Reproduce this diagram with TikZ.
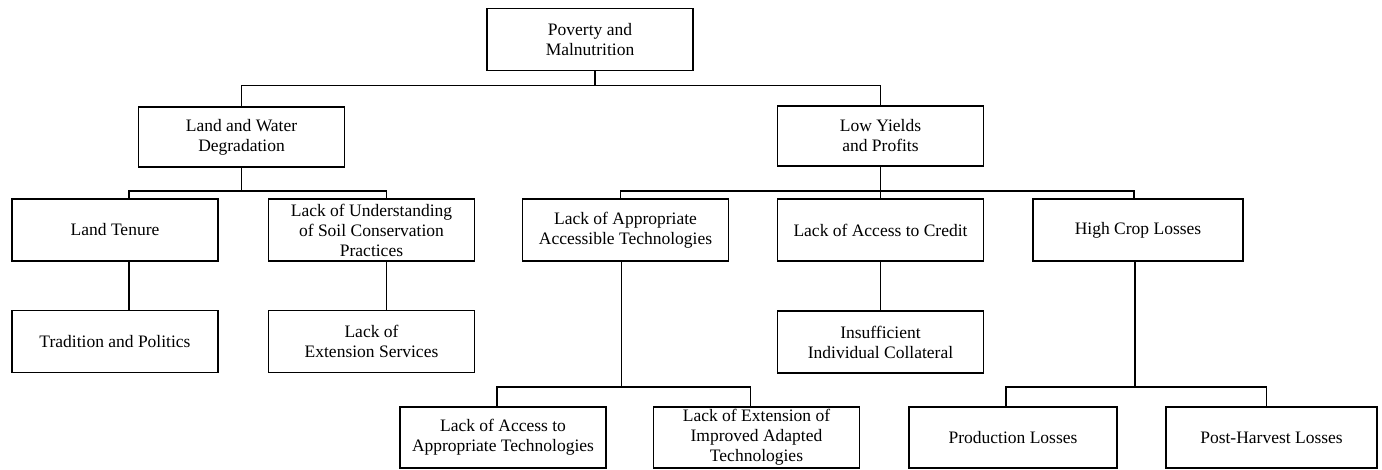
\documentclass[tikz,border=0pt]{standalone}
\usepackage{fontspec}
\setmainfont{Liberation Serif}
\usepackage{tikz}

\begin{document}
\begin{tikzpicture}[x=1pt, y=-1pt, font=\fontsize{17.5}{20}\selectfont,
    cause/.style={draw, line width=1.8pt, minimum width=206pt, minimum height=62pt, inner sep=1pt, align=center},
    link/.style={line width=1.3pt}]
    \useasboundingbox (0,0) rectangle (1382,470);

    \node[cause] (pov) at (590,39.5) {Poverty and\\Malnutrition};

    \node[cause, minimum height=60pt] (lwd) at (241.5,137) {Land and Water\\Degradation};
    \node[cause, minimum height=60pt] (lyp) at (880.5,136) {Low Yields\\and Profits};

    \node[cause] (lt)  at (115,230)   {Land Tenure};
    \node[cause] (lus) at (371.5,230) {Lack of Understanding\\of Soil Conservation\\Practices};
    \node[cause] (lat) at (625.5,230) {Lack of Appropriate\\Accessible Technologies};
    \node[cause] (lac) at (880.5,230) {Lack of Access to Credit};
    \node[cause, minimum width=210pt] (hcl) at (1138,230) {High Crop Losses};

    \node[cause] (tp)  at (115,341.5)   {Tradition and Politics};
    \node[cause] (les) at (371.5,341.5) {Lack of\\Extension Services};
    \node[cause] (iic) at (880.5,342)   {Insufficient\\Individual Collateral};

    \node[cause, minimum height=61pt] (lapt) at (503,437.5)  {Lack of Access to\\Appropriate Technologies};
    \node[cause, minimum height=61pt] (leit) at (756.5,437.5) {Lack of Extension of\\Improved Adapted\\Technologies};
    \node[cause, minimum height=61pt, minimum width=208pt] (pl)  at (1013,437.5)  {Production Losses};
    \node[cause, minimum height=61pt, minimum width=211pt] (phl) at (1271.5,437.5) {Post-Harvest Losses};

    \draw[link] ([xshift=5pt]pov.south) -- ++(0,14) -| (lwd.north);
    \draw[link] ([xshift=5pt]pov.south) -- ++(0,14) -| (lyp.north);

    \draw[link] (lwd.south) -- ++(0,23) -| ([xshift=14pt]lt.north);
    \draw[link] (lwd.south) -- ++(0,23) -| ([xshift=15pt]lus.north);
    \draw[link] (lyp.south) -- ++(0,24) -| ([xshift=-5pt]lat.north);
    \draw[link] (lyp.south) -- (lac.north);
    \draw[link] (lyp.south) -- ++(0,24) -| ([xshift=-4pt]hcl.north);

    \draw[link] ([xshift=14pt]lt.south) -- ([xshift=14pt]tp.north);
    \draw[link] ([xshift=15pt]lus.south) -- ([xshift=15pt]les.north);
    \draw[link] (lac.south) -- (iic.north);

    \draw[link] ([xshift=-4pt]lat.south) -- ++(0,125) -| ([xshift=-6pt]lapt.north);
    \draw[link] ([xshift=-4pt]lat.south) -- ++(0,125) -| ([xshift=-6pt]leit.north);
    \draw[link] ([xshift=-3pt]hcl.south) -- ++(0,125) -| ([xshift=-7pt]pl.north);
    \draw[link] ([xshift=-3pt]hcl.south) -- ++(0,125) -| ([xshift=-5pt]phl.north);
\end{tikzpicture}
\end{document}
